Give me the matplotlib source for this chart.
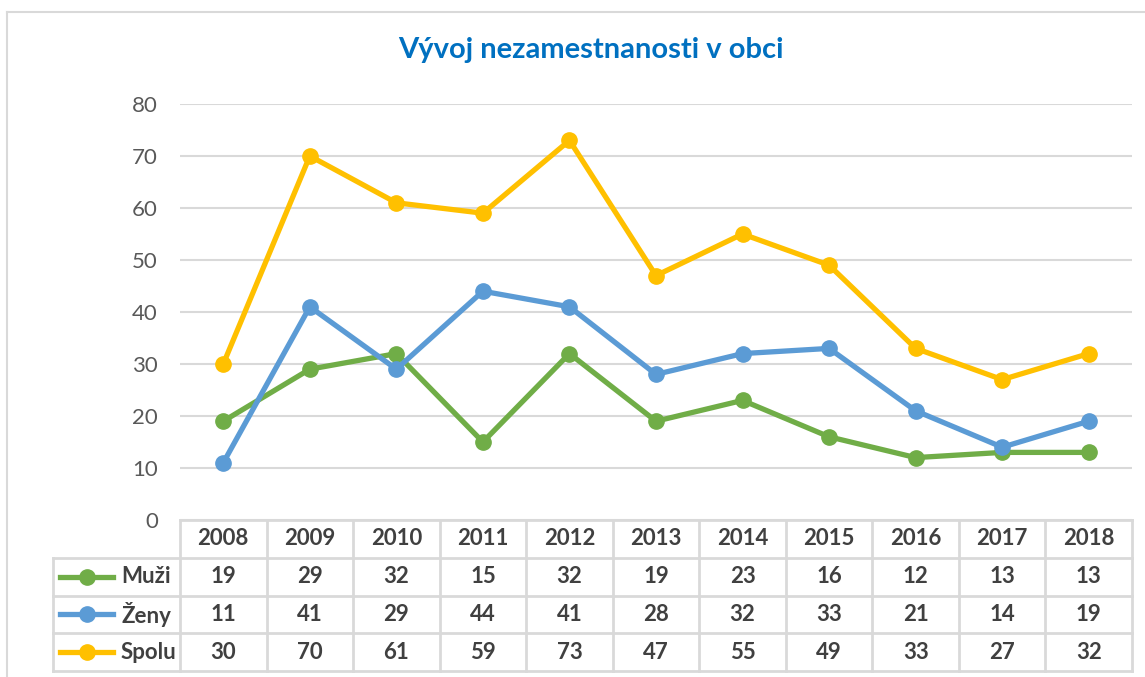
"""Vývoj nezamestnanosti v obci - line chart with data table."""

import matplotlib

matplotlib.use("Agg")
import matplotlib.pyplot as plt
from matplotlib.lines import Line2D

years = ["2008", "2009", "2010", "2011", "2012", "2013", "2014", "2015", "2016", "2017", "2018"]
muzi = [19, 29, 32, 15, 32, 19, 23, 16, 12, 13, 13]
zeny = [11, 41, 29, 44, 41, 28, 32, 33, 21, 14, 19]
spolu = [30, 70, 61, 59, 73, 47, 55, 49, 33, 27, 32]

series = [("Muži", muzi, "#70AD47"), ("Ženy", zeny, "#5B9BD5"), ("Spolu", spolu, "#FFC000")]

plt.rcParams["font.family"] = ["Lato", "DejaVu Sans"]

W, H = 1145, 677
GRID = "#D9D9D9"
TEXT = "#404040"


def fx(px):
    return px / W


def fy(py):
    return 1 - py / H


fig = plt.figure(figsize=(W / 100, H / 100), dpi=100)

# outer chart frame (only top and left visible in the crop)
fig.add_artist(Line2D([fx(7), 1], [fy(12), fy(12)], color=GRID, lw=1.5))
fig.add_artist(Line2D([fx(7), fx(7)], [fy(12), 0], color=GRID, lw=1.5))

# main plot area
left, right, top, bottom = 180, 1132, 104, 520
ax = fig.add_axes([fx(left), fy(bottom), fx(right - left), fy(top) - fy(bottom)])
x = list(range(len(years)))
for name, vals, col in series:
    ax.plot(x, vals, color=col, lw=3.8, marker="o", markersize=11, solid_capstyle="round", zorder=3)

ax.set_xlim(-0.5, len(years) - 0.5)
ax.set_ylim(0, 80)
ax.set_yticks(range(0, 81, 10))
ax.set_xticks([])
ax.yaxis.grid(True, color=GRID, lw=1.5)
ax.set_axisbelow(True)
for s in ax.spines.values():
    s.set_visible(False)
ax.tick_params(axis="y", length=0, pad=16, labelsize=16, labelcolor="#595959")

fig.text(fx(591), fy(50), "Vývoj nezamestnanosti v obci", ha="center", va="center",
         fontsize=21, fontweight="bold", color="#0070C0")

# data table below the plot
t_left, t_bottom = 53, 671
tab = fig.add_axes([fx(t_left), fy(t_bottom), fx(right - t_left), fy(bottom) - fy(t_bottom)])
lab_w = (left - t_left) / ((right - left) / len(years))
tab.set_xlim(-0.5 - lab_w, len(years) - 0.5)
tab.set_ylim(4, 0)
tab.axis("off")

n = len(years)
# horizontal lines
tab.plot([-0.5, n - 0.5], [0, 0], color=GRID, lw=2, clip_on=False)
for r in range(1, 5):
    tab.plot([-0.5 - lab_w, n - 0.5], [r, r], color=GRID, lw=2, clip_on=False)
# vertical lines
tab.plot([-0.5 - lab_w, -0.5 - lab_w], [1, 4], color=GRID, lw=2, clip_on=False)
for c in range(n + 1):
    tab.plot([c - 0.5, c - 0.5], [0, 4], color=GRID, lw=2, clip_on=False)

for i, yr in enumerate(years):
    tab.text(i, 0.5, yr, ha="center", va="center", fontsize=16, fontweight="bold", color=TEXT)

unit = (right - left) / n
for r, (name, vals, col) in enumerate(series, start=1):
    xs = -0.5 - lab_w + (60 - t_left) / unit
    xe = -0.5 - lab_w + (113 - t_left) / unit
    xm = -0.5 - lab_w + (87 - t_left) / unit
    tab.plot([xs, xe], [r + 0.5, r + 0.5], color=col, lw=3.8, clip_on=False)
    tab.plot([xm], [r + 0.5], color=col, marker="o", markersize=11, clip_on=False)
    tab.text(-0.5 - lab_w + (121 - t_left) / unit, r + 0.5, name, ha="left", va="center",
             fontsize=16, fontweight="bold", color=TEXT)
    for i, v in enumerate(vals):
        tab.text(i, r + 0.5, str(v), ha="center", va="center", fontsize=16,
                 fontweight="bold", color=TEXT)

fig.savefig("out.png", dpi=100)
